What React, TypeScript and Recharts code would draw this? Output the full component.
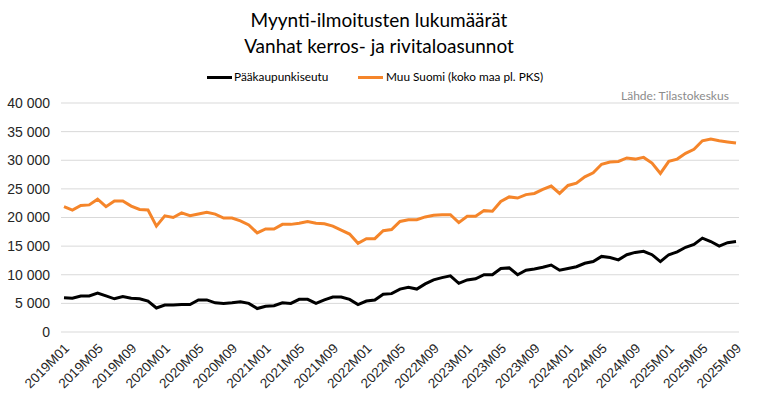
import React from 'react'
import { LineChart, Line, XAxis, YAxis, CartesianGrid } from 'recharts'

// kuukaudet 2019M01 ... 2025M09
const months: string[] = []
for (let y = 2019; y <= 2025; y++) {
  for (let m = 1; m <= 12; m++) {
    if (y === 2025 && m > 9) break
    months.push(`${y}M${String(m).padStart(2, '0')}`)
  }
}

const pks = [
  6000, 5900, 6300, 6300, 6800, 6300, 5800, 6200, 5900, 5800, 5400, 4200,
  4700, 4700, 4800, 4800, 5600, 5600, 5100, 5000, 5100, 5300, 5000, 4100,
  4500, 4600, 5100, 5000, 5700, 5700, 5000, 5600, 6100, 6100, 5700, 4800,
  5400, 5600, 6600, 6700, 7500, 7800, 7500, 8400, 9100, 9500, 9800, 8500,
  9100, 9300, 10000, 10000, 11100, 11200, 10000, 10800, 11000, 11300, 11700, 10800,
  11100, 11400, 12000, 12300, 13200, 13000, 12600, 13500, 13900, 14100, 13500, 12300,
  13500, 14000, 14800, 15300, 16400, 15800, 15000, 15600, 15800
]

const muuSuomi = [
  21900, 21300, 22100, 22200, 23200, 21900, 22900, 22900, 22000, 21400, 21300, 18500,
  20300, 20000, 20800, 20300, 20600, 20900, 20600, 19900, 19900, 19400, 18700, 17300,
  18000, 18000, 18800, 18800, 19000, 19300, 19000, 18900, 18500, 17800, 17100, 15500,
  16300, 16300, 17700, 17900, 19300, 19600, 19600, 20100, 20400, 20500, 20500, 19100,
  20200, 20200, 21200, 21100, 22800, 23600, 23400, 24000, 24200, 24900, 25500, 24200,
  25600, 26000, 27100, 27800, 29300, 29700, 29800, 30400, 30200, 30500, 29500, 27700,
  29800, 30200, 31200, 31900, 33400, 33700, 33400, 33200, 33000
]

const yTicks = [0, 5000, 10000, 15000, 20000, 25000, 30000, 35000, 40000]

const data = months.map((m, i) => ({ kk: m, pks: pks[i], muu: muuSuomi[i] }))

const fmt = (v: number) => (v === 0 ? '0' : `${Math.round(v / 1000)} 000`)

const BLACK = '#000000'
const ORANGE = '#F5852A'
const AXISFONT = 'Arial, Helvetica, sans-serif'

const XTick = ({ x, y, payload }: any) => (
  <text
    x={x + 3}
    y={y + 6}
    transform={`rotate(-45, ${x + 3}, ${y + 6})`}
    textAnchor="end"
    dominantBaseline="central"
    fill="#262626"
    fontSize={13.5}
    fontFamily={AXISFONT}
  >
    {payload.value}
  </text>
)

export default function App() {
  const calibri = "Lato, 'Open Sans', sans-serif"
  return (
    <div style={{ position: 'absolute', left: 0, top: 0, width: 758, height: 398, background: '#fff' }}>
      <div style={{ position: 'absolute', left: 0, width: 758, top: 7, textAlign: 'center', fontFamily: calibri, fontSize: 19, lineHeight: '26px', color: '#000' }}>
        Myynti-ilmoitusten lukumäärät
        <br />
        Vanhat kerros- ja rivitaloasunnot
      </div>

      {/* selite */}
      <div style={{ position: 'absolute', left: 207, top: 76, width: 25, height: 3, background: BLACK }} />
      <div style={{ position: 'absolute', left: 234, top: 69, fontFamily: calibri, fontSize: 11.8, color: '#000' }}>Pääkaupunkiseutu</div>
      <div style={{ position: 'absolute', left: 358, top: 76, width: 25, height: 3, background: ORANGE }} />
      <div style={{ position: 'absolute', left: 386, top: 69, fontFamily: calibri, fontSize: 11.8, color: '#000' }}>Muu Suomi (koko maa pl. PKS)</div>

      <div style={{ position: 'absolute', left: 621, top: 88, fontFamily: calibri, fontSize: 12, color: '#8c8c8c' }}>Lähde: Tilastokeskus</div>

      <LineChart width={758} height={398} data={data} margin={{ top: 103, right: 19, bottom: 0, left: 0 }}>
        <CartesianGrid vertical={false} stroke="#d9d9d9" strokeWidth={1} />
        <XAxis
          dataKey="kk"
          interval={3}
          height={66}
          axisLine={false}
          tickLine={false}
          padding={{ left: 3, right: 3 }}
          tick={<XTick />}
        />
        <YAxis
          domain={[0, 40000]}
          ticks={yTicks}
          width={61}
          axisLine={false}
          tickLine={false}
          tickSize={0}
          tickMargin={11}
          tickFormatter={fmt}
          tick={{ fill: '#262626', fontSize: 14, fontFamily: AXISFONT }}
        />
        <Line type="linear" dataKey="pks" stroke={BLACK} strokeWidth={3} dot={false} isAnimationActive={false} />
        <Line type="linear" dataKey="muu" stroke={ORANGE} strokeWidth={3} dot={false} isAnimationActive={false} />
      </LineChart>
    </div>
  )
}
